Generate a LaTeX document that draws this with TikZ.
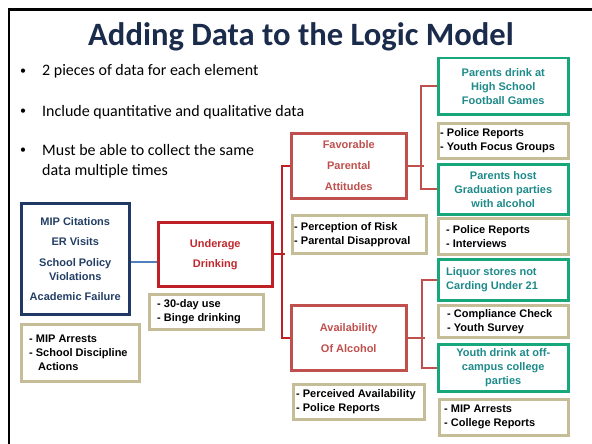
\documentclass[tikz,border=0pt]{standalone}
\usepackage{fontspec}
\setmainfont{Liberation Sans}
\newfontfamily\calib{Carlito}
\definecolor{titlec}{HTML}{1B2B4B}
\definecolor{navyc}{HTML}{1F3864}
\definecolor{navytext}{HTML}{243F66}
\definecolor{redc}{HTML}{BE2026}
\definecolor{redtext}{HTML}{C0282E}
\definecolor{lredc}{HTML}{C0504D}
\definecolor{greenc}{HTML}{17A77A}
\definecolor{tealc}{HTML}{1E8A8A}
\definecolor{tanc}{HTML}{C4BD97}
\definecolor{bluelinec}{HTML}{4F81BD}
\begin{document}
\begin{tikzpicture}[x=1pt,y=-1pt,
  boxbase/.style={draw, line width=2.5pt, anchor=north west, inner sep=0pt,
    font=\fontsize{11}{14}\selectfont\bfseries},
  tanbox/.style={boxbase, draw=tanc},
  tantext/.style={anchor=west, inner sep=0pt, align=left, text=black,
    font=\fontsize{11}{14}\selectfont\bfseries},
  greenbox/.style={boxbase, draw=greenc, text=tealc, align=center},
  bluebox/.style={boxbase, draw=navyc, text=navytext, align=center},
  redbox/.style={boxbase, draw=redc, text=redtext, align=center},
  lredbox/.style={boxbase, draw=lredc, text=lredc, align=center},
  bullettext/.style={anchor=base west, inner sep=0pt, font=\calib\fontsize{16}{20}\selectfont},
  bulletdot/.style={anchor=base, inner sep=0pt, font=\calib\fontsize{12}{14}\selectfont},
  redline/.style={draw=redc, line width=2pt},
  lredline/.style={draw=lredc, line width=2pt},
  blueline/.style={draw=bluelinec, line width=2pt}
]
\useasboundingbox (0,0) rectangle (592,444);
\fill[white] (0,0) rectangle (592,444);
\draw[line width=2.5pt] (9,444) -- (9,9.5) -- (592,9.5);

\node[anchor=base, inner sep=0pt, text=titlec,
  font=\calib\bfseries\fontsize{32.6}{38}\selectfont] (title) at (301,46)
  {Adding Data to the Logic Model};

\node[bulletdot] (d1) at (23,74.5) {•};
\node[bullettext] (t1) at (42,76) {2 pieces of data for each element};
\node[bulletdot] (d2) at (23,114.5) {•};
\node[bullettext] (t2) at (42,116) {Include quantitative and qualitative data};
\node[bulletdot] (d3) at (23,153.5) {•};
\node[bullettext] (t3) at (42,155) {Must be able to collect the same};
\node[bullettext] (t3b) at (42,175) {data multiple times};

% left column
\node[bluebox, minimum width=108, minimum height=111] (blue) at (20,202)
  {MIP Citations\\[6pt]ER Visits\\[7pt]School Policy\\Violations\\[6pt]Academic Failure};
\node[tanbox, minimum width=118, minimum height=57] (mip) at (20,323) {};
\node[tantext] (mipt) at ([xshift=9pt]mip.west)
  {- MIP Arrests\\- School Discipline\\\hspace*{9pt}Actions};

% middle
\node[redbox, minimum width=114, minimum height=64] (under) at (157,221)
  {Underage\\[6pt]Drinking};
\node[tanbox, minimum width=114, minimum height=35] (use) at (148,293) {};
\node[tantext] (uset) at ([xshift=9pt]use.west) {- 30-day use\\- Binge drinking};

\node[lredbox, minimum width=115, minimum height=65] (fav) at (290,132)
  {Favorable\\[6.5pt]Parental\\[7pt]Attitudes};
\node[tanbox, minimum width=134, minimum height=38] (risk) at (291,214) {};
\node[tantext] (riskt) at ([xshift=3pt]risk.west) {- Perception of Risk\\- Parental Disapproval};

\node[lredbox, minimum width=115, minimum height=65] (avail) at (290,304)
  {Availability\\[7pt]Of Alcohol};
\node[tanbox, minimum width=131, minimum height=35] (pa) at (292,383) {};
\node[tantext] (pat) at ([xshift=4pt]pa.west) {- Perceived Availability\\- Police Reports};

% right column
\node[greenbox, minimum width=130, minimum height=56] (g1) at (437,57)
  {Parents drink at\\High School\\Football Games};
\node[tanbox, minimum width=130, minimum height=35] (pr1) at (437,122) {};
\node[tantext] (pr1t) at ([xshift=3pt]pr1.west) {- Police Reports\\- Youth Focus Groups};
\node[greenbox, minimum width=130, minimum height=50] (g2) at (437,163)
  {Parents host\\Graduation parties\\with alcohol};
\node[tanbox, minimum width=130, minimum height=36] (pi) at (437,217) {};
\node[tantext] (pit) at ([xshift=9pt]pi.west) {- Police Reports\\- Interviews};
\node[greenbox, minimum width=130, minimum height=41] (g3) at (437,258) {};
\node[tantext, text=tealc] (g3t) at ([xshift=9pt]g3.west) {Liquor stores not\\Carding Under 21};
\node[tanbox, minimum width=130, minimum height=32] (cc) at (437,304) {};
\node[tantext] (cct) at ([xshift=10pt]cc.west) {- Compliance Check\\- Youth Survey};
\node[greenbox, minimum width=130, minimum height=47] (g4) at (437,343)
  {Youth drink at off-\\campus college\\parties};
\node[tanbox, minimum width=129, minimum height=36] (mc) at (438,398) {};
\node[tantext] (mct) at ([xshift=6pt]mc.west) {- MIP Arrests\\- College Reports};

% connectors
\draw[blueline] ([yshift=-3.5pt]blue.east) -- ([yshift=-3.5pt]blue.east -| under.west);
\draw[redline] (under.east) -- ++(11,0);
\draw[redline] (fav.west) -- ++(-8,0) |- (avail.west);
\draw[lredline] (fav.east) -- ++(16,0);
\draw[lredline] (g1.west) -- ++(-16,0) |- (g2.west);
\draw[lredline] (avail.east) -- ++(17,0);
\draw[lredline] (g3.west) -- ++(-15,0) |- (g4.west);
\end{tikzpicture}
\end{document}
